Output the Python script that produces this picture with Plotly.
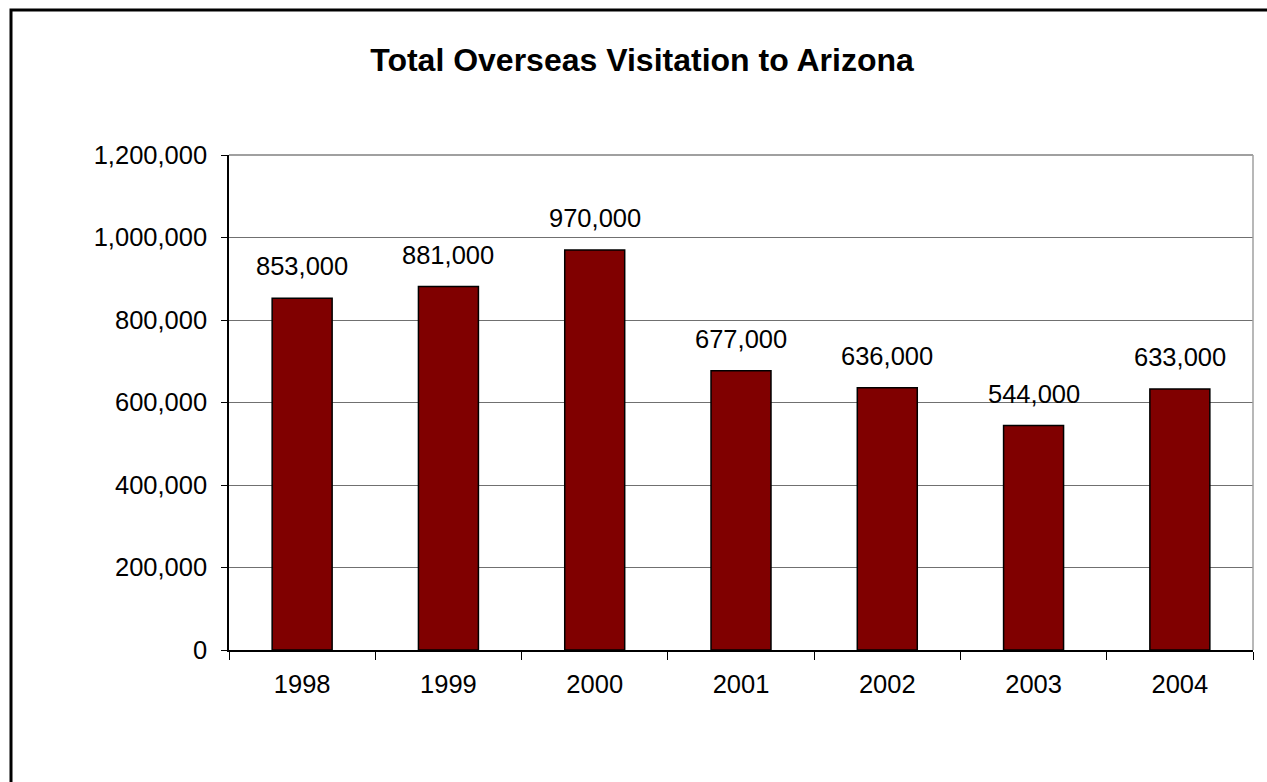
import plotly.graph_objects as go

# Overseas visitors to Arizona by year
years = ["1998", "1999", "2000", "2001", "2002", "2003", "2004"]
visitors = [853000, 881000, 970000, 677000, 636000, 544000, 633000]
y_ticks = [0, 200000, 400000, 600000, 800000, 1000000, 1200000]

FONT = "Liberation Sans, Arial, sans-serif"

fig = go.Figure()
fig.add_trace(go.Bar(
    x=years,
    y=visitors,
    marker=dict(color="#800000", line=dict(color="#000000", width=1.5)),
    hoverinfo="x+y",
))

# value labels above each bar (category index positions)
for i, v in enumerate(visitors):
    fig.add_annotation(
        x=i, y=v, text=f"{v:,}", showarrow=False,
        yanchor="bottom", yshift=16,
        font=dict(family=FONT, size=25.5, color="#000000"),
    )

# outer chart frame
fig.add_shape(type="rect", xref="paper", yref="paper",
              x0=(11 - 229) / 1024, x1=(1290 - 229) / 1024,
              y0=(650 - 800) / 495, y1=(650 - 10) / 495,
              line=dict(color="#000000", width=3), fillcolor="rgba(0,0,0,0)")
# top and right edges of plot area
fig.add_shape(type="line", xref="paper", yref="paper",
              x0=0, x1=1, y0=1, y1=1,
              line=dict(color="#808080", width=1.5))
fig.add_shape(type="line", xref="paper", yref="paper",
              x0=1, x1=1, y0=0, y1=1,
              line=dict(color="#a0a0a0", width=1.5))

fig.update_layout(
    width=1267, height=782,
    margin=dict(l=229, r=14, t=155, b=132),
    paper_bgcolor="#ffffff", plot_bgcolor="#ffffff",
    showlegend=False,
    bargap=0.59,
    title=dict(text="<b>Total Overseas Visitation to Arizona</b>",
               x=642 / 1267, xanchor="center", xref="container",
               y=1 - 60 / 782, yanchor="middle", yref="container",
               font=dict(family=FONT, size=32, color="#000000")),
    font=dict(family=FONT, size=25.5, color="#000000"),
)

fig.update_xaxes(
    type="category", range=[-0.5, len(years) - 0.5],
    showline=True, linecolor="#000000", linewidth=1.5,
    ticks="outside", tickson="boundaries", ticklen=8, tickcolor="#000000", tickwidth=1,
    ticklabelstandoff=11, tickangle=0,
    showgrid=False,
    tickfont=dict(family=FONT, size=25.5, color="#000000"),
)
fig.update_yaxes(
    range=[0, 1200000], tickvals=y_ticks, tickformat=",",
    showline=True, linecolor="#000000", linewidth=1.5,
    ticks="outside", ticklen=6, tickcolor="#000000", tickwidth=1,
    showgrid=True, gridcolor="#707070", gridwidth=1,
    zeroline=False,
    ticklabelstandoff=9,
    tickfont=dict(family=FONT, size=25.5, color="#000000"),
)

fig.write_html("out.html")
